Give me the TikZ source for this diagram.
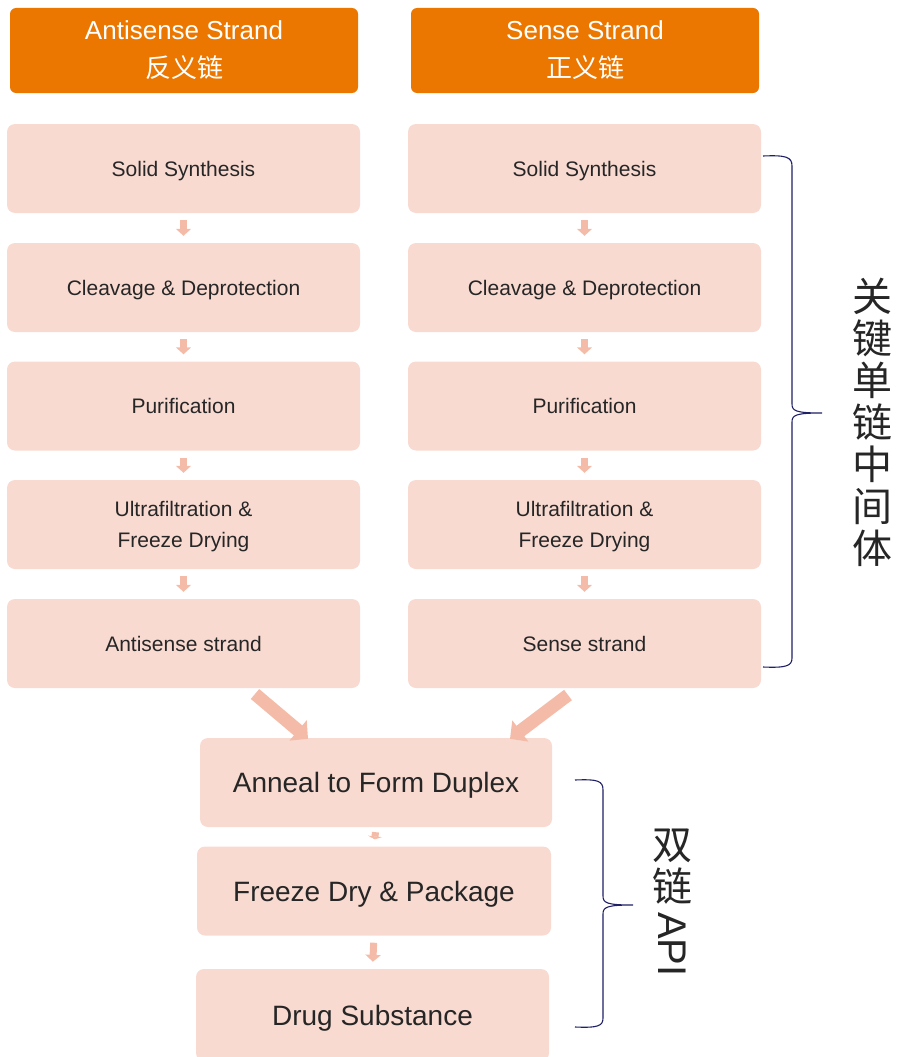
\documentclass[tikz,border=0pt]{standalone}
\usepackage{fontspec}
\setmainfont{Liberation Sans}
\newfontfamily\cjk{Noto Sans CJK SC}
\usetikzlibrary{arrows.meta}
\definecolor{hdr}{HTML}{EB7700}
\definecolor{stepfill}{HTML}{F8DAD0}
\definecolor{arr}{HTML}{F4BCA8}
\definecolor{txt}{HTML}{262626}
\definecolor{brace}{HTML}{1F1F66}
\begin{document}
\begin{tikzpicture}[x=1pt,y=-1pt,
  hdrbox/.style={fill=hdr,rounded corners=6pt,minimum width=348pt,minimum height=85pt,inner sep=0pt,text=white,align=center,font=\fontsize{26}{38}\selectfont},
  stepbox/.style={fill=stepfill,rounded corners=8pt,minimum width=353pt,minimum height=89pt,inner sep=0pt,text=txt,align=center,text depth=0pt,font=\fontsize{21}{31}\selectfont},
  bigbox/.style={fill=stepfill,rounded corners=8pt,minimum height=89pt,inner sep=0pt,text=txt,align=center,text depth=0pt,font=\fontsize{28}{32}\selectfont},
  smallarr/.style={draw=arr,line width=7pt,-{Triangle[length=7pt,width=15pt]},shorten <=7pt,shorten >=7pt},
  diagarr/.style={draw=arr,line width=13pt,-{Triangle[length=13pt,width=26pt]}},
  bracepath/.style={draw=brace,line width=1.1pt},
  vtext/.style={text=txt,font=\cjk\fontsize{40}{42}\selectfont,align=center,inner sep=0pt}
]
\useasboundingbox (0,0) rectangle (897,1057);
% headers
\node[hdrbox] (h1) at (184,50.5) {Antisense Strand\\{\cjk 反义链}};
\node[hdrbox] (h2) at (585,50.5) {Sense Strand\\{\cjk 正义链}};
% left column
\node[stepbox] (a1) at (183.5,168.5) {Solid Synthesis};
\node[stepbox] (a2) at (183.5,287.5) {Cleavage \& Deprotection};
\node[stepbox] (a3) at (183.5,406) {Purification};
\node[stepbox] (a4) at (183.5,524.5) {Ultrafiltration \&\\Freeze Drying};
\node[stepbox] (a5) at (183.5,643.5) {Antisense strand};
% right column
\node[stepbox] (b1) at (584.5,168.5) {Solid Synthesis};
\node[stepbox] (b2) at (584.5,287.5) {Cleavage \& Deprotection};
\node[stepbox] (b3) at (584.5,406) {Purification};
\node[stepbox] (b4) at (584.5,524.5) {Ultrafiltration \&\\Freeze Drying};
\node[stepbox] (b5) at (584.5,643.5) {Sense strand};
% bottom
\node[bigbox,minimum width=352pt] (c1) at (376,782.5) {Anneal to Form Duplex};
\node[bigbox,minimum width=354pt] (c2) at (374,891) {Freeze Dry \& Package};
\node[bigbox,minimum width=353pt,minimum height=92pt] (c3) at (372.5,1015) {Drug Substance};
% small arrows
\foreach \u/\v in {a1/a2,a2/a3,a3/a4,a4/a5,b1/b2,b2/b3,b3/b4,b4/b5}{
  \draw[smallarr] (\u.south) -- (\v.north);
}
\draw[draw=arr,line width=7pt,-{Triangle[length=3pt,width=14pt]},shorten <=5pt,shorten >=7pt] (c1.south) -- (c2.north);
\draw[smallarr] (c2.south) -- (c3.north);
% diagonal arrows
\coordinate (la) at (255,694);
\coordinate (ra) at (568,695);
\draw[diagarr] (la) -- ([xshift=-68pt,yshift=-1pt]c1.north);
\draw[diagarr] (ra) -- ([xshift=134pt,yshift=-1pt]c1.north);
% brace 1
\draw[bracepath] (763,156) .. controls (786,155) and (792,157) .. (792,166) -- (792,404)
  .. controls (792,411) and (796,413) .. (822,413)
  .. controls (796,413) and (792,415) .. (792,422) -- (792,658)
  .. controls (792,666) and (786,668) .. (763,667);
\node[vtext] (t1) at (872,422) {关\\键\\单\\链\\中\\间\\体};
% brace 2
\draw[bracepath] (575,780) .. controls (598,779) and (603,781) .. (603,790) -- (603,896)
  .. controls (603,903) and (607,905) .. (633,905)
  .. controls (607,905) and (603,907) .. (603,914) -- (603,1018)
  .. controls (603,1026) and (598,1028) .. (575,1027);
\node[vtext] (t2) at (672,867) {双\\链};
\node[text=txt,font=\fontsize{40}{42}\selectfont,rotate=-90,inner sep=0pt,anchor=west] (t3) at (672,912) {API};
\end{tikzpicture}
\end{document}
